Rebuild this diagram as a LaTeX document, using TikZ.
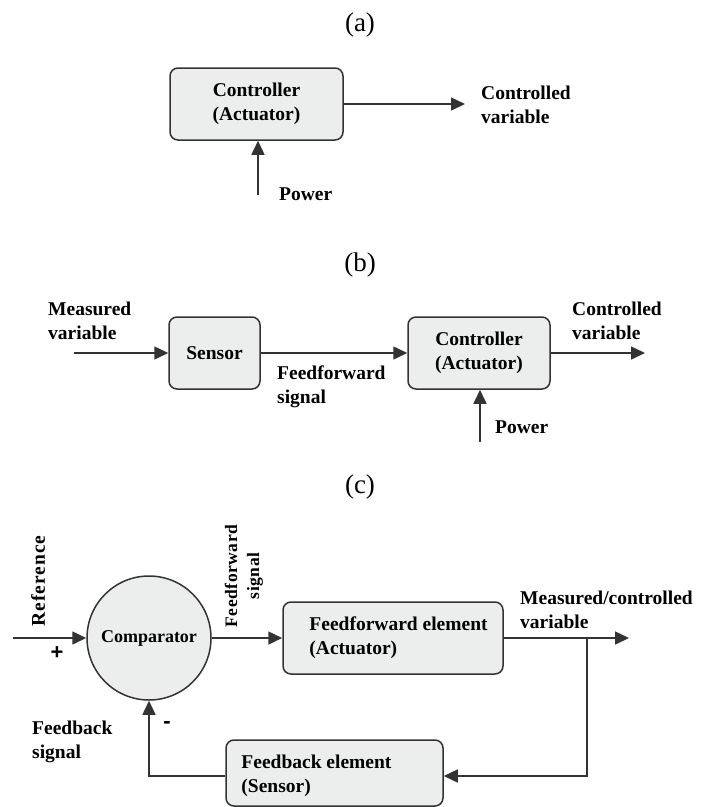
\documentclass[tikz,border=0pt]{standalone}
\usepackage{fontspec}
\setmainfont{Liberation Serif}
\newfontfamily\signfont{Liberation Sans}
\usetikzlibrary{arrows.meta}

\definecolor{ink}{HTML}{333333}
\definecolor{boxfill}{HTML}{ECEEEE}
\newcommand\lblfont{\fontsize{19.5}{24}\selectfont\bfseries}

\begin{document}
\begin{tikzpicture}[x=1pt,y=-1pt,
  block/.style={draw=ink, fill=boxfill, rounded corners=8pt, line width=1.5pt,
    inner sep=0pt, align=center, font=\lblfont},
  flow/.style={draw=ink, line width=1.5pt, -{Triangle[length=14pt,width=13pt]}},
  txt/.style={font=\lblfont, inner sep=0pt, align=left},
  sign/.style={font=\fontsize{22}{24}\selectfont\signfont\bfseries, inner sep=0pt},
  caption/.style={font=\fontsize{27}{30}\selectfont, inner sep=0pt}]

\useasboundingbox (0,0) rectangle (712,807);

% ---------- (a) open-loop actuator ----------
\node[caption] (capa) at (360,25) {(a)};
\node[block, minimum width=173pt, minimum height=72pt] (ctla) at (256.5,104)
  {Controller\\(Actuator)};
\coordinate (outa) at (465,104);
\draw[flow] (ctla) -- (outa);
\node[txt, anchor=west] (cva) at (481,105) {Controlled\\variable};
\coordinate (pwra) at (258,195);
\draw[flow] (pwra) -- (pwra |- ctla.south);
\node[txt, anchor=west] (pwla) at (279,194) {Power};

% ---------- (b) feedforward control ----------
\node[caption] (capb) at (360,265) {(b)};
\node[block, minimum width=91pt, minimum height=72pt] (senb) at (214.5,353) {Sensor};
\node[block, minimum width=142pt, minimum height=72pt] (ctlb) at (479,353)
  {Controller\\(Actuator)};
\coordinate (inb) at (74,353);
\coordinate (outb) at (645,353);
\draw[flow] (inb) -- (senb);
\draw[flow] (senb) -- (ctlb);
\draw[flow] (ctlb) -- (outb);
\node[txt, anchor=west] (mvb) at (48,321) {Measured\\variable};
\node[txt, anchor=west] (ffsb) at (277,387) {Feedforward\\signal};
\node[txt, anchor=west] (cvb) at (572,321) {Controlled\\variable};
\coordinate (pwrb) at (480,442);
\draw[flow] (pwrb) -- (pwrb |- ctlb.south);
\node[txt, anchor=west] (pwlb) at (495,427) {Power};

% ---------- (c) closed-loop control ----------
\node[caption] (capc) at (360,487) {(c)};
\node[circle, draw=ink, fill=boxfill, line width=1.5pt, minimum size=124pt,
  inner sep=0pt, font=\fontsize{18}{22}\selectfont\bfseries] (cmp) at (149,638) {Comparator};
\node[block, minimum width=220pt, minimum height=72pt] (ffb) at (393,638) {};
\node[txt, anchor=west] (fftx) at ([xshift=27pt]ffb.west) {Feedforward element\\(Actuator)};
\node[block, minimum width=217pt, minimum height=66pt] (fbb) at (334.5,773) {};
\node[txt, anchor=west] (fbtx) at ([xshift=16pt,yshift=-3pt]fbb.west) {Feedback element\\(Sensor)};

\coordinate (refin) at (13,638);
\draw[flow] (refin) -- (cmp);
\draw[flow] (cmp) -- (ffb);
\coordinate (outc) at (629,638);
\coordinate (tap) at (587,638);
\draw[flow] (ffb) -- (outc);
\draw[flow] (tap) |- ([yshift=-3pt]fbb.east);
\draw[flow] ([yshift=-3pt]fbb.west) -| (cmp.south);

\node[txt, rotate=90, anchor=center,
  font=\fontsize{19.5}{24}\selectfont\bfseries\addfontfeature{LetterSpace=5}]
  (reflbl) at (38,581) {Reference};
\node[txt, rotate=90, anchor=center, align=center,
  font=\fontsize{17.5}{22}\selectfont\bfseries\addfontfeature{LetterSpace=3}]
  (ffslbl) at (244,576) {Feedforward\\signal};
\node[sign, anchor=center] (plus) at (57,653) {+};
\node[sign, anchor=center] (minus) at (167,725) {-};
\node[txt, anchor=west] (fbsig) at (32,742) {Feedback\\signal};
\node[txt, anchor=west] (mcv) at (520,610) {Measured/controlled\\variable};

\end{tikzpicture}
\end{document}
